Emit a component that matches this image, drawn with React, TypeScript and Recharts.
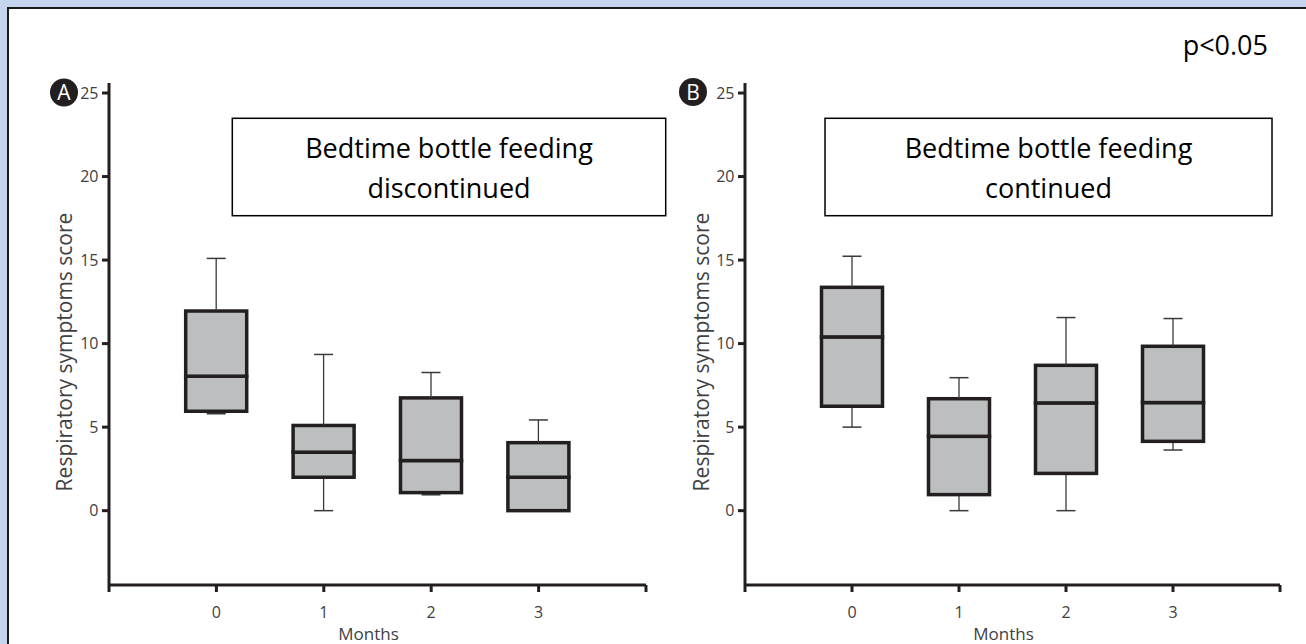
import React from 'react';
import { ComposedChart, Bar, XAxis, YAxis } from 'recharts';

// ---------- data ----------
const months = [0, 1, 2, 3];
const monthTickLabels = ['0', '1', '2', '3'];
const xTicks = [-1, 0, 1, 2, 3, 4];
const yTicks = [0, 5, 10, 15, 20, 25];

// Panel A: bedtime bottle feeding discontinued
const aMin = [5.8, 0, 0.95, 0];
const aQ1 = [5.95, 2.0, 1.08, 0];
const aMedian = [8.05, 3.5, 3.0, 2.0];
const aQ3 = [11.95, 5.1, 6.75, 4.07];
const aMax = [15.1, 9.35, 8.27, 5.43];

// Panel B: bedtime bottle feeding continued
const bMin = [5.0, 0, 0, 3.63];
const bQ1 = [6.25, 0.96, 2.23, 4.15];
const bMedian = [10.4, 4.45, 6.45, 6.47];
const bQ3 = [13.37, 6.7, 8.7, 9.84];
const bMax = [15.23, 7.96, 11.56, 11.5];

const panelATitle = ['Bedtime bottle feeding', 'discontinued'];
const panelBTitle = ['Bedtime bottle feeding', 'continued'];
const yLabel = 'Respiratory symptoms score';
const xLabel = 'Months';
const pText = 'p<0.05';

const buildRows = (mn: number[], q1: number[], md: number[], q3: number[], mx: number[]) =>
  months.map((m, i) => ({
    month: m,
    base: mn[i],
    lw: q1[i] - mn[i],
    bl: md[i] - q1[i],
    bh: q3[i] - md[i],
    uw: mx[i] - q3[i],
  }));

const rowsA = buildRows(aMin, aQ1, aMedian, aQ3, aMax);
const rowsB = buildRows(bMin, bQ1, bMedian, bQ3, bMax);

// ---------- styles ----------
const DARK = '#231f20';
const GRAY_FILL = '#bcbec0';
const TEXT = '#414042';
const FONT = 'Open Sans';
const CAP = 9.5;

const fmtX = (v: number) => {
  const i = months.indexOf(v);
  return i >= 0 ? monthTickLabels[i] : '';
};

const norm = (p: any) => {
  const { x, y, width, height } = p;
  const top = Math.min(y, y + height);
  const bot = Math.max(y, y + height);
  return { cx: x + width / 2, x, width, top, bot };
};

const HiddenShape = () => <g />;

const LowerWhisker = (p: any) => {
  const { cx, top, bot } = norm(p);
  if (!(bot - top > 0.5)) return <g />;
  return (
    <g>
      <line x1={cx} x2={cx} y1={top} y2={bot} stroke="#3a3a3a" strokeWidth={1.3} />
      <line x1={cx - CAP} x2={cx + CAP} y1={bot} y2={bot} stroke="#3a3a3a" strokeWidth={1.5} />
    </g>
  );
};

const UpperWhisker = (p: any) => {
  const { cx, top, bot } = norm(p);
  if (!(bot - top > 0.5)) return <g />;
  return (
    <g>
      <line x1={cx} x2={cx} y1={top} y2={bot} stroke="#3a3a3a" strokeWidth={1.3} />
      <line x1={cx - CAP} x2={cx + CAP} y1={top} y2={top} stroke="#3a3a3a" strokeWidth={1.5} />
    </g>
  );
};

const BoxPart = (p: any) => {
  const { x, width, top, bot } = norm(p);
  return (
    <rect x={x} y={top} width={width} height={bot - top} fill={GRAY_FILL} stroke={DARK} strokeWidth={3.5} />
  );
};

const axisStyle = { stroke: DARK, strokeWidth: 3 };
const tickStyle = { fill: TEXT, fontSize: 16, fontFamily: FONT };

const Panel = ({ rows, width, yAxisWidth, marginRight }: any) => (
  <ComposedChart
    width={width}
    height={644}
    data={rows}
    margin={{ top: 83, right: marginRight, bottom: 0, left: 0 }}
  >
    <XAxis
      dataKey="month"
      type="number"
      domain={[-1, 4]}
      ticks={xTicks}
      interval={0}
      allowDataOverflow
      tickFormatter={fmtX}
      height={59}
      axisLine={axisStyle}
      tickLine={axisStyle}
      tickSize={7}
      tickMargin={15}
      tick={tickStyle}
      label={{ value: xLabel, position: 'insideBottom', offset: 4, dx: -9, fill: TEXT, fontSize: 17, fontFamily: FONT }}
    />
    <YAxis
      type="number"
      domain={[-4.45, 25.6]}
      ticks={yTicks}
      interval={0}
      allowDataOverflow
      width={yAxisWidth}
      axisLine={axisStyle}
      tickLine={axisStyle}
      tickSize={7}
      tickMargin={3.5}
      tick={tickStyle}
    />
    <Bar dataKey="base" stackId="box" barSize={61} isAnimationActive={false} shape={HiddenShape} fill="transparent" />
    <Bar dataKey="lw" stackId="box" barSize={61} isAnimationActive={false} shape={LowerWhisker} />
    <Bar dataKey="bl" stackId="box" barSize={61} isAnimationActive={false} shape={BoxPart} />
    <Bar dataKey="bh" stackId="box" barSize={61} isAnimationActive={false} shape={BoxPart} />
    <Bar dataKey="uw" stackId="box" barSize={61} isAnimationActive={false} shape={UpperWhisker} />
  </ComposedChart>
);

const TitleBox = ({ x, y, w, h, lines }: any) => (
  <g>
    <rect x={x} y={y} width={w} height={h} fill="#ffffff" stroke="#000000" strokeWidth={1.5} />
    <text x={x + w / 2} y={158} textAnchor="middle" fontFamily={FONT} fontSize={27} fill="#000">
      {lines[0]}
    </text>
    <text x={x + w / 2} y={198} textAnchor="middle" fontFamily={FONT} fontSize={27} fill="#000">
      {lines[1]}
    </text>
  </g>
);

const Badge = ({ cx, cy, letter }: any) => (
  <g>
    <circle cx={cx} cy={cy} r={14} fill={DARK} />
    <text x={cx} y={cy + 7.5} textAnchor="middle" fontFamily={FONT} fontSize={21} fill="#ffffff">
      {letter}
    </text>
  </g>
);

export default function App() {
  return (
    <div style={{ position: 'absolute', left: 0, top: 0, width: 1306, height: 644, background: '#c6d5ee', overflow: 'hidden' }}>
      <div
        style={{
          position: 'absolute',
          left: 7,
          top: 7,
          width: 1320,
          height: 660,
          background: '#ffffff',
          border: '2px solid #1a1a1a',
          boxSizing: 'border-box',
        }}
      />
      <div style={{ position: 'absolute', left: 0, top: 0 }}>
        <Panel rows={rowsA} width={660} yAxisWidth={109} marginRight={14} />
      </div>
      <div style={{ position: 'absolute', left: 640, top: 0 }}>
        <Panel rows={rowsB} width={666} yAxisWidth={105} marginRight={26} />
      </div>
      <svg width={1306} height={644} style={{ position: 'absolute', left: 0, top: 0, pointerEvents: 'none' }}>
        <TitleBox x={232.3} y={118.3} w={433.4} h={97.4} lines={panelATitle} />
        <TitleBox x={825} y={118.3} w={447} h={97.4} lines={panelBTitle} />
        <Badge cx={64} cy={92.5} letter="A" />
        <Badge cx={693} cy={92} letter="B" />
        <text
          transform="translate(64,352) rotate(-90)"
          textAnchor="middle"
          dominantBaseline="central"
          fontFamily={FONT}
          fontSize={21}
          fill={TEXT}
        >
          {yLabel}
        </text>
        <text
          transform="translate(701,352) rotate(-90)"
          textAnchor="middle"
          dominantBaseline="central"
          fontFamily={FONT}
          fontSize={21}
          fill={TEXT}
        >
          {yLabel}
        </text>
        <text x={1268} y={55} textAnchor="end" fontFamily={FONT} fontSize={27} fill="#000">
          {pText}
        </text>
      </svg>
    </div>
  );
}
